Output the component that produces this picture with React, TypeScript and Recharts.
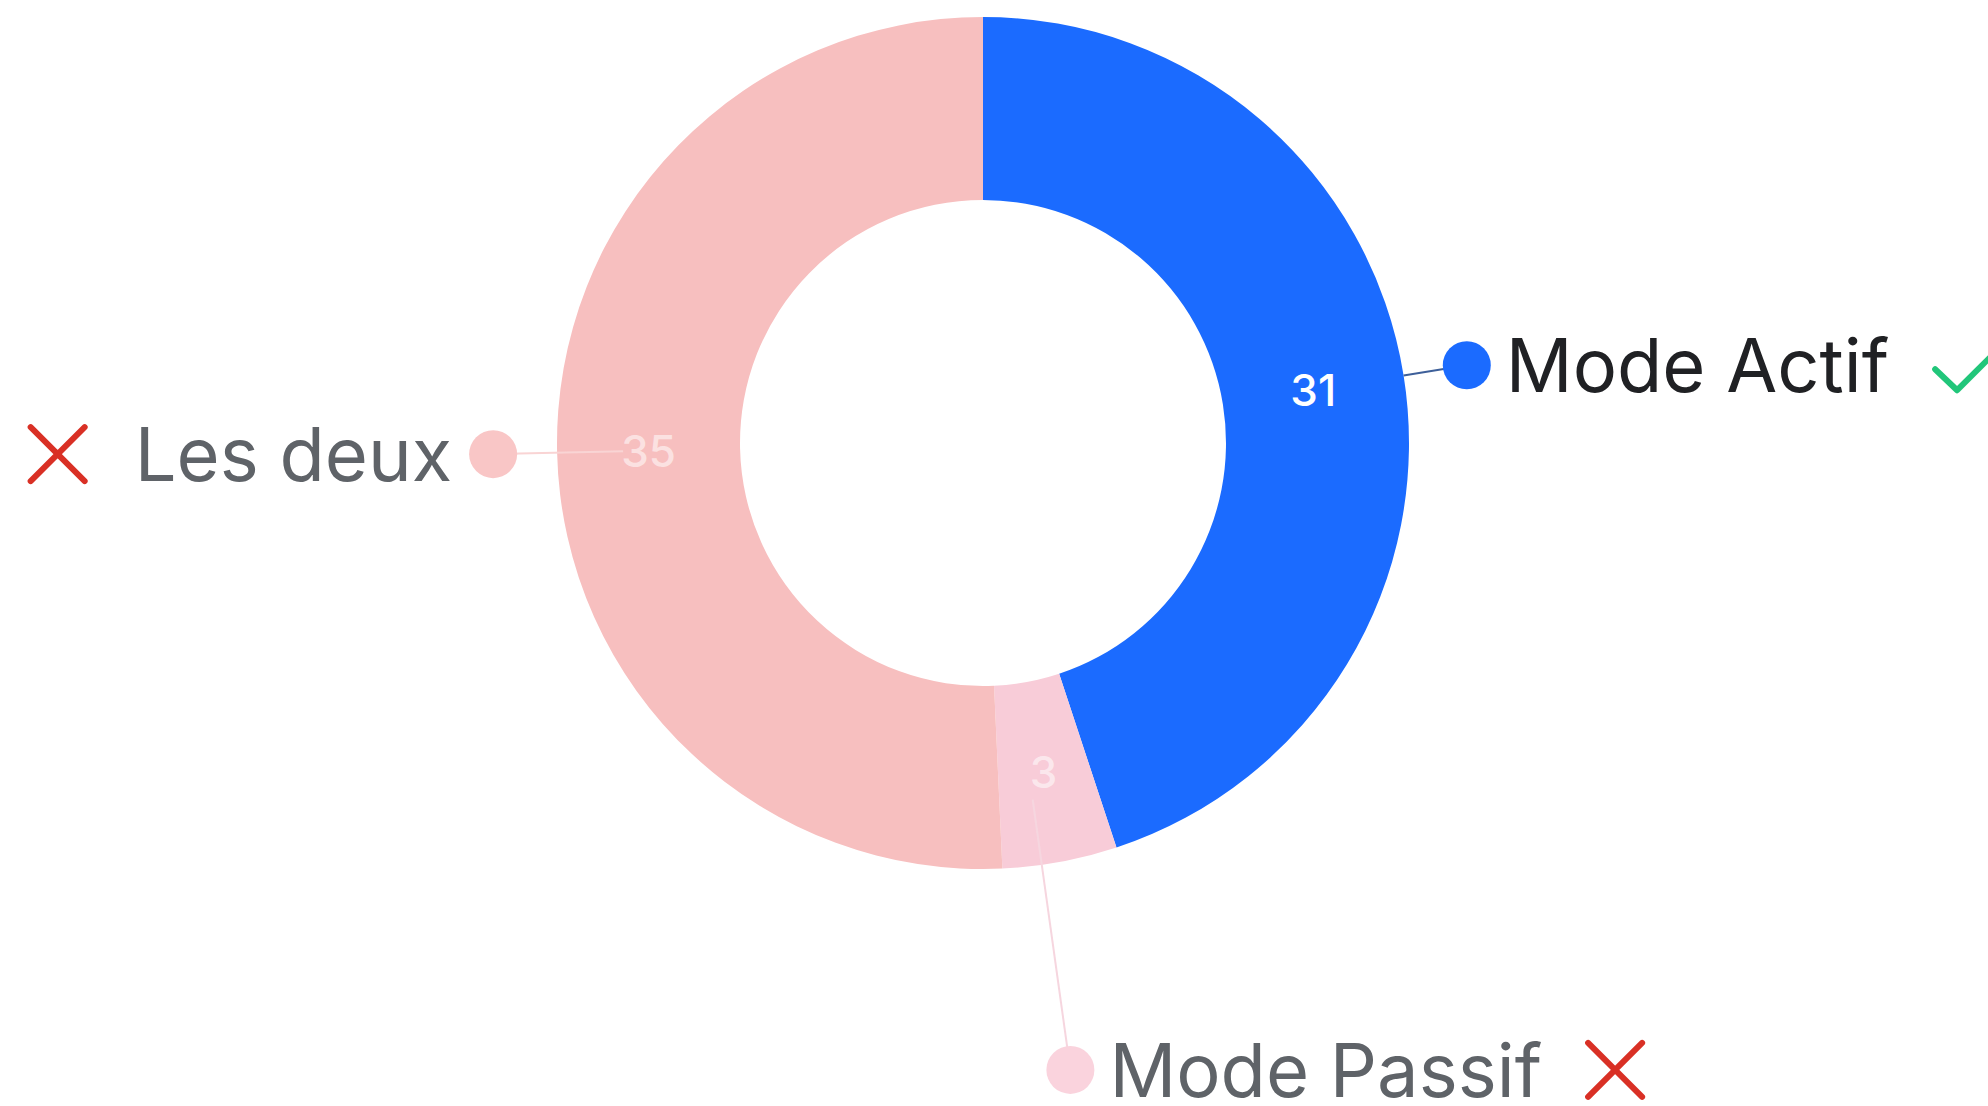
import { useLayoutEffect, useRef, useState } from "react"
import { PieChart, Pie, Cell } from "recharts"

const categories = ["Mode Actif", "Mode Passif", "Les deux"]
const values = [31, 3, 35]

const data = categories.map((name, i) => ({ name, value: values[i] }))

// styling per slice
const sliceColors = ["#1B6BFF", "#F8CCD8", "#F7BFBF"]
const dotColors = ["#1B6BFF", "#FAD3DD", "#F9C6C6"]
const lineColors = ["#3D5F99", "#F6D6DF", "#F9D4D4"]
const textColors = ["#202124", "#5F6368", "#5F6368"]
const valueOpacity = [1, 0.55, 0.55]
const icons = ["check", "cross", "cross"]
const labelRadius = [490, 633, 490]
const labelAngleShift = [0, -2.5, 0]
const lineStart = [426, 360, 360]

const RADIAN = Math.PI / 180
const FONT = "Inter, 'Noto Sans', sans-serif"

function polar(cx: number, cy: number, r: number, angle: number) {
  return { x: cx + r * Math.cos(-angle * RADIAN), y: cy + r * Math.sin(-angle * RADIAN) }
}

function Icon({ kind, x, cy }: { kind: string; x: number; cy: number }) {
  if (kind === "check") {
    return (
      <path
        d={`M${x},${cy + 4} L${x + 22},${cy + 25} L${x + 74},${cy - 27}`}
        fill="none"
        stroke="#21C67A"
        strokeWidth={6}
        strokeLinecap="round"
        strokeLinejoin="round"
      />
    )
  }
  const s = 54
  return (
    <path
      d={`M${x},${cy - s / 2} L${x + s},${cy + s / 2} M${x + s},${cy - s / 2} L${x},${cy + s / 2}`}
      fill="none"
      stroke="#D93025"
      strokeWidth={6}
      strokeLinecap="round"
    />
  )
}

function SliceLabel(props: any) {
  const { cx, cy, midAngle, innerRadius, outerRadius, index, name, value } = props
  const ref = useRef<SVGTextElement>(null)
  const [w, setW] = useState(0)
  useLayoutEffect(() => {
    if (ref.current) setW(ref.current.getComputedTextLength())
  }, [name])

  const mid = polar(cx, cy, (innerRadius + outerRadius) / 2, midAngle)
  const angle = midAngle + labelAngleShift[index]
  const start = polar(cx, cy, lineStart[index], angle)
  const dot = polar(cx, cy, labelRadius[index], angle)
  const right = Math.cos(-angle * RADIAN) >= 0
  const dotR = 24
  const textX = right ? dot.x + dotR + 15 : dot.x - dotR - 17
  const iconSize = icons[index] === "check" ? 74 : 54
  const iconX = right ? textX + w + 46 : textX - w - 50 - iconSize

  return (
    <g>
      <line x1={start.x} y1={start.y} x2={dot.x} y2={dot.y} stroke={lineColors[index]} strokeWidth={2} />
      <circle cx={dot.x} cy={dot.y} r={dotR} fill={dotColors[index]} />
      <text
        ref={ref}
        x={textX}
        y={dot.y + 27}
        textAnchor={right ? "start" : "end"}
        fill={textColors[index]}
        fontSize={74}
        fontFamily={FONT}
      >
        {name}
      </text>
      {w > 0 && <Icon kind={icons[index]} x={iconX} cy={dot.y} />}
      <text
        x={mid.x}
        y={mid.y}
        textAnchor="middle"
        dominantBaseline="central"
        fill="#FFFFFF"
        fillOpacity={valueOpacity[index]}
        fontSize={44}
        fontWeight={500}
        fontFamily={FONT}
      >
        {value}
      </text>
    </g>
  )
}

export default function App() {
  return (
    <div style={{ width: 1988, height: 1106, overflow: "hidden", background: "#fff" }}>
      <style>{`body{margin:0;overflow:hidden}`}</style>
      <PieChart width={1988} height={1106}>
        <Pie
          data={data}
          dataKey="value"
          nameKey="name"
          cx={978}
          cy={438}
          innerRadius={243}
          outerRadius={426}
          startAngle={90}
          endAngle={-270}
          stroke="none"
          labelLine={false}
          label={(p: any) => <SliceLabel {...p} />}
          isAnimationActive={false}
        >
          {data.map((d, i) => (
            <Cell key={d.name} fill={sliceColors[i]} />
          ))}
        </Pie>
      </PieChart>
    </div>
  )
}
